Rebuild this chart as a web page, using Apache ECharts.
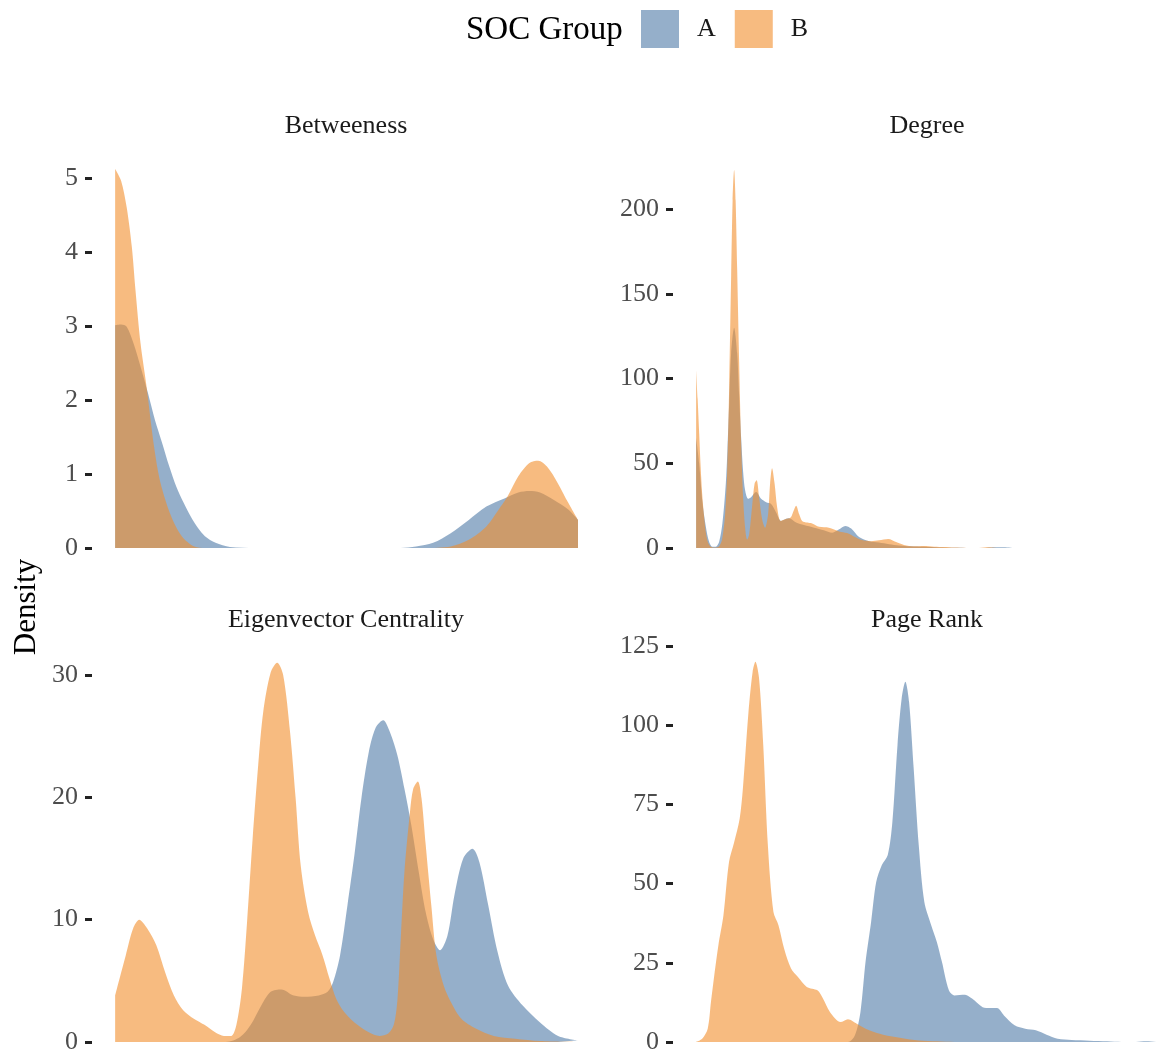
<!DOCTYPE html>
<html>
<head>
<meta charset="utf-8">
<title>Centrality densities by SOC group</title>
<script src="https://cdn.jsdelivr.net/npm/echarts@6/dist/echarts.min.js"></script>
<style>
  html, body { margin: 0; padding: 0; background: #ffffff; }
  #chart { width: 1157px; height: 1052px; }
</style>
</head>
<body>
<div id="chart"></div>
<script>
// Group labels and fill colours
const groups = ['A', 'B'];
const groupColors = ['#4E79A7', '#F28E2B'];

// Facet titles
const facetTitles = ['Betweeness', 'Degree', 'Eigenvector Centrality', 'Page Rank'];

// Y-axis tick settings per facet (top tick value and step)
const yTop = [5, 200, 30, 125];
const yStep = [1, 50, 10, 25];

// Density estimates, x scaled to 0-100 over each measure's observed range
const betweenA = [
  [0, 3.01], [1.3, 3.02], [2.5, 2.99], [4, 2.76], [5.5, 2.45], [7.1, 2.09], [8.6, 1.73],
  [10.2, 1.41], [11.7, 1.10], [13.2, 0.83], [14.8, 0.61], [16.3, 0.43], [17.9, 0.27],
  [19.4, 0.16], [21.7, 0.07], [24.8, 0.013], [30.2, 0], [61.7, 0], [65, 0.02], [68.7, 0.07],
  [72.5, 0.2], [76.4, 0.38], [80.2, 0.56], [84.1, 0.67], [87.1, 0.75], [89.5, 0.77],
  [91.8, 0.75], [94.8, 0.65], [97.9, 0.52], [100, 0.38]
];
const betweenB = [
  [0, 5.12], [1.3, 4.96], [2.5, 4.6], [3.6, 4.07], [4.4, 3.48], [5.5, 2.76], [6.7, 2.22],
  [8.5, 1.33], [9.8, 0.88], [12.1, 0.43], [14.4, 0.16], [17.1, 0.02], [19.4, 0], [67, 0],
  [72.5, 0.02], [76.4, 0.11], [80.2, 0.29], [83.3, 0.56], [84.8, 0.70], [87.1, 0.97],
  [89.5, 1.15], [91.4, 1.18], [93.3, 1.1], [95.6, 0.88], [97.9, 0.61], [100, 0.38]
];

const degreeA = [
  [0, 65], [0.65, 50], [1.36, 27], [2.1, 12.6], [2.8, 3.7], [3.5, 0.8], [4.25, 0.8],
  [4.97, 3.7], [5.68, 14.7], [6.41, 38], [6.76, 58], [7.13, 85], [7.56, 115], [8.21, 130],
  [8.86, 115], [9.29, 90], [9.72, 65], [10.15, 45], [10.58, 34], [11.23, 29], [11.88, 30],
  [12.96, 33], [14.04, 29], [15.12, 27], [16.2, 26], [17.28, 21], [18.36, 16], [19.22, 17],
  [20.09, 17.5], [21.6, 15], [23.3, 13.5], [25.5, 12], [27.6, 10.5], [29.4, 9], [30.9, 11],
  [32.2, 13], [33.5, 11.5], [35.2, 6.5], [37.4, 4], [39.5, 3.2], [41.7, 2.2], [43.8, 1.5],
  [46.4, 1], [49.2, 0.7], [52.5, 0.3], [55.7, 0.15], [59, 0.05], [62.2, 0], [63.7, 0.3],
  [65.4, 0.4], [67.2, 0.3], [68.7, 0], [100, 0]
];
const degreeB = [
  [0, 105], [0.32, 88], [0.65, 68], [0.97, 48], [1.3, 32], [1.73, 18], [2.16, 8], [2.6, 3],
  [3.24, 0.6], [4.1, 0.2], [4.97, 1], [5.6, 5], [6.26, 20], [6.7, 45], [7.13, 95], [7.56, 160],
  [7.88, 205], [8.21, 223], [8.53, 205], [8.86, 165], [9.29, 110], [9.72, 62], [10.15, 30],
  [10.58, 12], [11.02, 5], [11.45, 8], [12.1, 25], [12.63, 38], [13.07, 40], [13.6, 30],
  [14.25, 17], [14.9, 12], [15.55, 20], [15.98, 38], [16.4, 47], [16.95, 38], [17.5, 24],
  [18.25, 16], [19.22, 17], [20.41, 18], [21.06, 22], [21.6, 25], [22.25, 20], [22.9, 16],
  [24, 15], [25.05, 14.5], [26.57, 12.5], [28.7, 12], [30.9, 9.8], [32.6, 8.8], [34.3, 6.5],
  [35.8, 4.7], [37.8, 4], [39.5, 4.5], [41.5, 5.3], [43.2, 3.5], [44.9, 1.8], [47.1, 1],
  [49.2, 1.2], [51.4, 0.8], [53.6, 0.6], [55.7, 0.3], [58.5, 0.05], [61.1, 0], [62.2, 0.3],
  [63.3, 0.5], [64.4, 0.2], [65.4, 0], [100, 0]
];

const eigenA = [
  [0, 0], [23.9, 0], [27, 0.4], [29.3, 1.4], [31.6, 3.0], [33.6, 4.1], [35.9, 4.3], [38.6, 3.8],
  [40.9, 3.7], [44, 3.8], [45.9, 4.1], [47.1, 4.9], [48.6, 7.1], [50.2, 11.2], [51.7, 15.3],
  [53.2, 19.9], [54.8, 23.7], [56.3, 25.7], [57.9, 26.3], [59.4, 25.3], [61, 23.4], [62.5, 20.7],
  [64, 17.7], [65.6, 13.9], [67.1, 10.6], [68.7, 8.4], [70.2, 7.5], [71.8, 8.7], [73.3, 12],
  [75.2, 15], [77.2, 15.8], [78.7, 14.7], [80.6, 11.2], [82.6, 7.4], [84.9, 4.6], [88, 3.0],
  [91.8, 1.6], [95.7, 0.5], [100, 0.14]
];
const eigenB = [
  [0, 3.8], [2.3, 7.1], [3.9, 9.3], [5.2, 10.0], [6.9, 9.3], [8.9, 7.9], [10.8, 5.7], [12.7, 3.8],
  [14.7, 2.6], [17, 1.9], [19.3, 1.4], [21.6, 0.8], [23.5, 0.5], [25.1, 0.5], [26.2, 1.4],
  [27.4, 4.4], [28.5, 9.8], [29.7, 16.6], [30.9, 22.6], [32, 27], [33.6, 30.2], [35, 31],
  [36.3, 30], [37.8, 25.3], [39, 19.9], [40.1, 14.4], [41.7, 10.6], [43.2, 8.7], [44.8, 7.1],
  [46.3, 5.2], [47.8, 3.5], [49.4, 2.5], [51.7, 1.6], [54.8, 0.8], [57.1, 0.5], [59, 0.7],
  [60.2, 1.4], [61, 3.5], [61.7, 8.4], [62.5, 13.9], [63.7, 18.8], [64.4, 20.7], [65.4, 21.3],
  [66.2, 19.9], [67.1, 16.1], [68.3, 11.2], [69.4, 7.1], [71, 4.6], [72.5, 3.3], [74.8, 1.9],
  [77.9, 1.1], [81.8, 0.5], [86.4, 0.27], [91.8, 0.08], [100, 0]
];

const pageRankA = [
  [0, 0], [32.8, 0], [34.3, 2.1], [35.5, 9.5], [36.6, 25.3], [37.8, 37.9], [38.9, 50.5],
  [40.1, 55.8], [41.4, 59], [42.4, 69.5], [43.5, 93.7], [44.4, 108.4], [45.2, 113.7],
  [46, 107.4], [47, 86.3], [48.1, 62], [49.3, 44.2], [50.8, 36.8], [52, 31.6], [53.1, 25.3],
  [54.6, 16.3], [55.8, 14.7], [58.1, 14.9], [59.6, 13.7], [61.9, 11], [63.5, 10.7], [65, 10.7],
  [66.5, 8.4], [68.8, 5.3], [71.1, 4.2], [73.4, 3.7], [75.7, 2.3], [78.1, 1], [81.1, 0.6],
  [85, 0.4], [88.8, 0.2], [91.9, 0], [95, 0], [97.2, 0.2], [99.4, 0], [100, 0]
];
const pageRankB = [
  [0, 0], [1.3, 1], [2.5, 4.2], [3.2, 12.6], [4, 22], [4.8, 30.5], [5.9, 40], [7.1, 56.8],
  [8.2, 63], [9.4, 70.5], [10.1, 80], [11.3, 104], [12.2, 116.8], [12.8, 120], [13.6, 114.7],
  [14.5, 93.7], [15.5, 62], [16.7, 41], [17.8, 36.8], [19, 29.5], [20.5, 23.2], [22, 20.5],
  [23.9, 17.4], [26.2, 16.3], [27.4, 13.7], [28.9, 9.5], [31.2, 6.3], [32.8, 7.2], [34.7, 5.8],
  [37.4, 3.7], [40.4, 2.3], [44.3, 1.3], [48.1, 0.5], [52, 0.2], [55.8, 0], [100, 0]
];

const facetData = [
  [betweenA, betweenB],
  [degreeA, degreeB],
  [eigenA, eigenB],
  [pageRankA, pageRankB]
];

// Panel placement (pixels). Each panel's x range is padded by about 5% on the
// left so the y axis sits just outside the data, as in a faceted density plot.
const xPad = -5;
const panelBoxes = [
  { left: 92,  top: 178, width: 486, height: 370, titleX: 346, titleY: 126 },
  { left: 673, top: 209, width: 486, height: 339, titleX: 927, titleY: 126 },
  { left: 92,  top: 675, width: 486, height: 367, titleX: 346, titleY: 620 },
  { left: 673, top: 646, width: 486, height: 396, titleX: 927, titleY: 620 }
];

const FONT = '"Liberation Serif", "Times New Roman", serif';

const grids = [], xAxes = [], yAxes = [], series = [], graphics = [];

panelBoxes.forEach((b, i) => {
  grids.push({
    left: b.left, top: b.top, width: b.width, height: b.height,
    containLabel: false, outerBoundsMode: 'none', show: false
  });
  xAxes.push({
    gridIndex: i, type: 'value', min: xPad, max: 100, show: false
  });
  yAxes.push({
    gridIndex: i, type: 'value', min: 0, max: yTop[i], interval: yStep[i],
    position: 'left',
    axisLine: { show: false, onZero: false },
    axisTick: { show: true, inside: false, length: 7, lineStyle: { color: '#222222', width: 3 } },
    axisLabel: { margin: 14, color: '#4D4D4D', fontSize: 26, fontFamily: FONT },
    splitLine: { show: false }
  });
  groups.forEach((g, k) => {
    series.push({
      type: 'line', name: g, xAxisIndex: i, yAxisIndex: i,
      data: facetData[i][k],
      symbol: 'none', showSymbol: false,
      smooth: 0.3,
      clip: false, silent: true,
      itemStyle: { color: groupColors[k] },
      lineStyle: { width: 0, color: groupColors[k] },
      areaStyle: { color: groupColors[k], opacity: 0.6 },
      z: 2 + k
    });
  });
  graphics.push({
    type: 'text', x: b.titleX, y: b.titleY,
    style: {
      text: facetTitles[i], font: '26px ' + FONT, fill: '#1A1A1A',
      textAlign: 'center', textVerticalAlign: 'middle'
    }
  });
});

// Shared y-axis title
graphics.push({
  type: 'text', x: 27, y: 607, rotation: Math.PI / 2,
  style: {
    text: 'Density', font: '31px ' + FONT, fill: '#000000',
    textAlign: 'center', textVerticalAlign: 'middle'
  }
});
// Legend heading
graphics.push({
  type: 'text', x: 466, y: 30,
  style: {
    text: 'SOC Group', font: '33px ' + FONT, fill: '#000000',
    textAlign: 'left', textVerticalAlign: 'middle'
  }
});

const chart = echarts.init(document.getElementById('chart'), null, { renderer: 'canvas' });
chart.setOption({
  backgroundColor: '#ffffff',
  animation: false,
  grid: grids,
  xAxis: xAxes,
  yAxis: yAxes,
  legend: {
    data: groups, left: 641, top: 10, padding: 0,
    icon: 'rect', itemWidth: 38, itemHeight: 38, itemGap: 19,
    selectedMode: false,
    itemStyle: { opacity: 0.6, borderWidth: 0 },
    textStyle: { fontSize: 26, fontFamily: FONT, color: '#1A1A1A', padding: [0, 0, 0, 13] }
  },
  graphic: graphics,
  series: series
});
</script>
</body>
</html>
